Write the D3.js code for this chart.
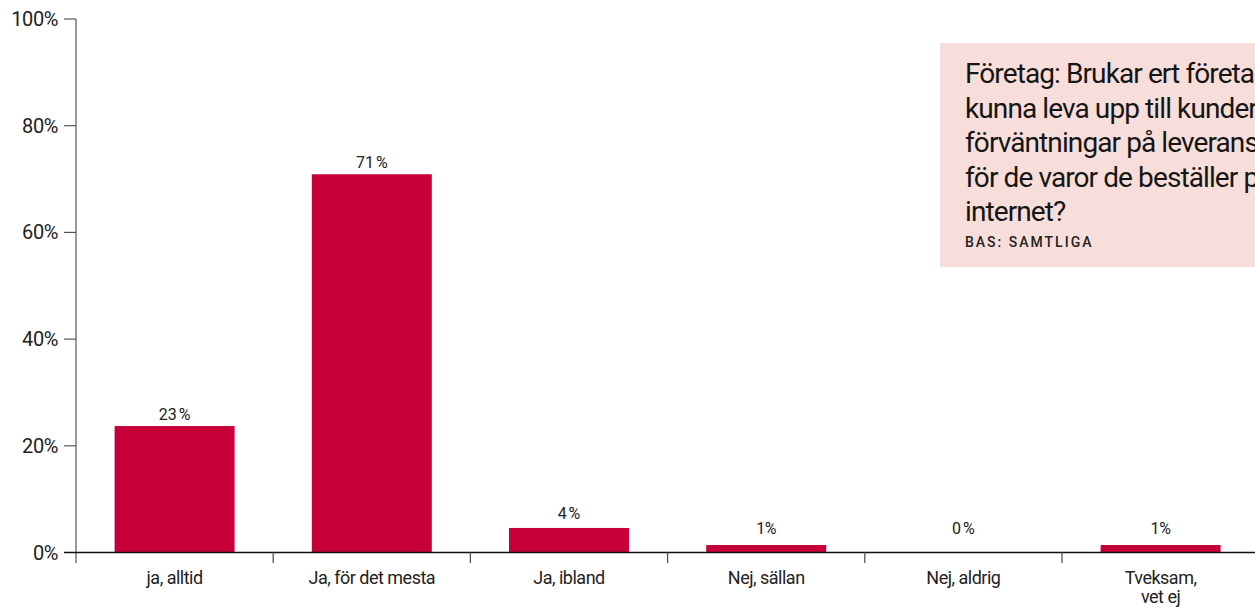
<!DOCTYPE html>
<html>
<head>
<meta charset="utf-8">
<script src="https://cdn.jsdelivr.net/npm/d3@7/dist/d3.min.js"></script>
<style>
  html, body { margin: 0; padding: 0; background: #fff; }
  svg { display: block; font-family: Roboto, "Noto Sans", sans-serif; }
</style>
</head>
<body>
<svg id="chart" width="1255" height="607"></svg>
<script>
const categories = ["ja, alltid", "Ja, för det mesta", "Ja, ibland", "Nej, sällan", "Nej, aldrig", "Tveksam,\nvet ej"];
const values = [23.7, 70.9, 4.6, 1.4, 0, 1.4];
const valueLabels = ["23\u202F%", "71\u202F%", "4\u202F%", "1%", "0\u202F%", "1%"];
const yTicks = [0, 20, 40, 60, 80, 100];
const titleLines = ["Företag: Brukar ert företag", "kunna leva upp till kundernas", "förväntningar på leveranstid", "för de varor de beställer på", "internet?"];
const baseLabel = "BAS: SAMTLIGA";

(function () {
const svg = d3.select("#chart");
const mLeft = 76, mBottom = 552.5, mTop = 19;
const step = 197.2;

const x = d3.scaleBand().domain(categories).range([mLeft, mLeft + step * categories.length]).padding(0);
const y = d3.scaleLinear().domain([0, 100]).range([mBottom, mTop]);
const barW = 120;

// title box
const box = svg.append("g");
box.append("rect").attr("x", 940).attr("y", 43).attr("width", 330).attr("height", 224).attr("fill", "#f7dedb");
box.selectAll("text.t").data(titleLines).join("text")
  .attr("class", "t")
  .attr("x", 965).attr("y", (d, i) => 83 + i * 34.5)
  .attr("font-size", 28).attr("font-weight", 400).attr("letter-spacing", "-0.9px")
  .attr("fill", "#151515").text(d => d);
box.append("text").attr("x", 965).attr("y", 247)
  .attr("font-size", 14).attr("font-weight", 500).attr("letter-spacing", "2px")
  .attr("fill", "#222").text(baseLabel);

// y axis line
svg.append("line").attr("x1", mLeft).attr("x2", mLeft).attr("y1", mTop).attr("y2", 563)
  .attr("stroke", "#777").attr("stroke-width", 1.5);

// y ticks & labels
const yg = svg.append("g");
yg.selectAll("line").data(yTicks.filter(d => d > 0)).join("line")
  .attr("x1", 64).attr("x2", mLeft).attr("y1", d => y(d)).attr("y2", d => y(d))
  .attr("stroke", "#555").attr("stroke-width", 1.2);
yg.selectAll("text").data(yTicks).join("text")
  .attr("x", 58).attr("y", d => y(d) + 7)
  .attr("text-anchor", "end").attr("font-size", 20).attr("letter-spacing", "-0.4px")
  .attr("fill", "#222").text(d => d + "%");

// bars
svg.selectAll("rect.bar").data(values).join("rect")
  .attr("class", "bar")
  .attr("x", (d, i) => x(categories[i]) + x.bandwidth() / 2 - barW / 2)
  .attr("width", barW)
  .attr("y", d => y(d))
  .attr("height", d => mBottom - y(d))
  .attr("fill", "#c8003a");

// value labels
svg.selectAll("text.val").data(values).join("text")
  .attr("class", "val")
  .attr("x", (d, i) => x(categories[i]) + x.bandwidth() / 2)
  .attr("y", d => y(Math.max(d, 1.4)) - (d > 20 ? 6 : d > 3 ? 9 : 11))
  .attr("text-anchor", "middle").attr("font-size", 16).attr("letter-spacing", "-0.3px")
  .attr("fill", "#222").text((d, i) => valueLabels[i]);

// baseline
svg.append("line").attr("x1", 64).attr("x2", 1255).attr("y1", mBottom).attr("y2", mBottom)
  .attr("stroke", "#111").attr("stroke-width", 1.3);

// x ticks at band boundaries
const bounds = categories.map(c => x(c)).concat([x.range()[1]]);
svg.selectAll("line.xt").data(bounds.slice(1)).join("line")
  .attr("class", "xt")
  .attr("x1", d => d).attr("x2", d => d).attr("y1", mBottom).attr("y2", 563)
  .attr("stroke", "#555").attr("stroke-width", 1.3);

// x labels
const xl = svg.selectAll("text.xl").data(categories).join("text")
  .attr("class", "xl")
  .attr("x", d => x(d) + x.bandwidth() / 2)
  .attr("y", 584)
  .attr("text-anchor", "middle").attr("font-size", 18).attr("letter-spacing", "-0.5px")
  .attr("fill", "#222");
xl.selectAll("tspan").data(d => d.split("\n")).join("tspan")
  .attr("x", function() { return d3.select(this.parentNode).attr("x"); })
  .attr("dy", (d, i) => i === 0 ? 0 : 19)
  .text(d => d);
})();
</script>
</body>
</html>
